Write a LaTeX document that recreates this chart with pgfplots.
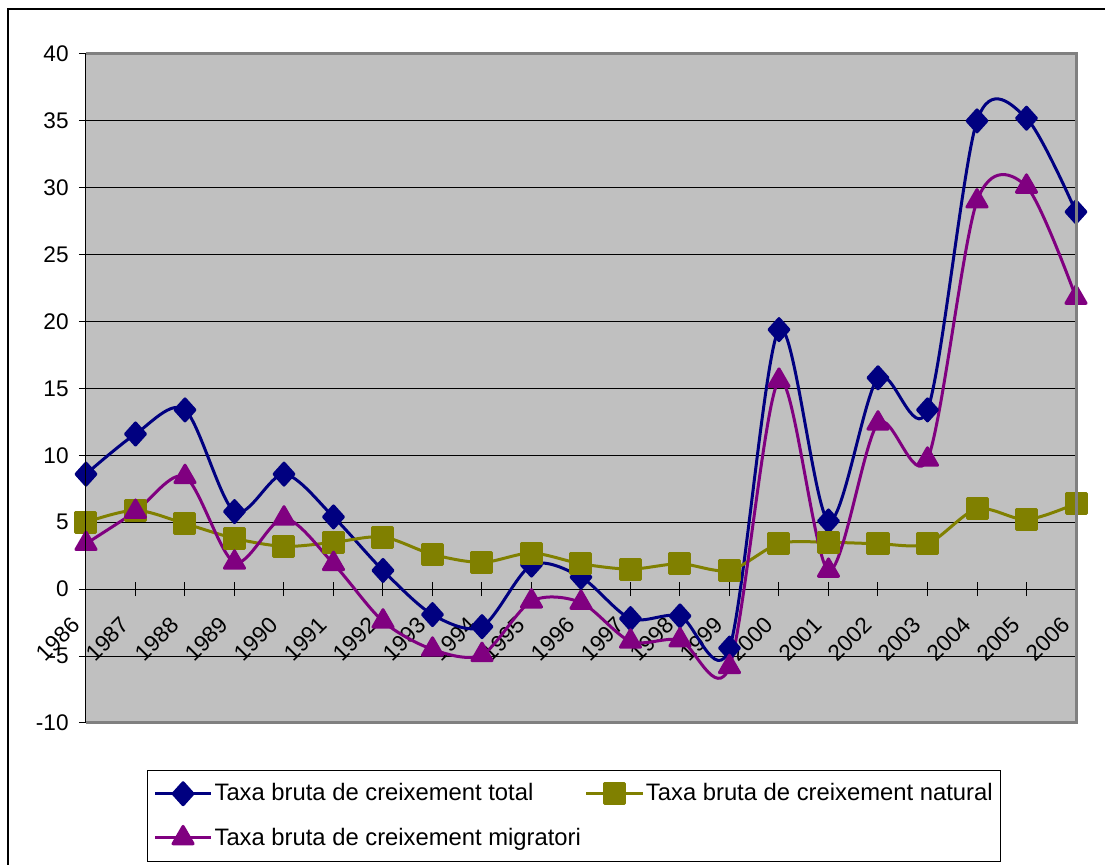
\documentclass[border=0pt]{standalone}
\usepackage{fontspec}
\setmainfont{Liberation Sans}
\usepackage{pgfplots}
\pgfplotsset{compat=1.18}
\definecolor{cTot}{RGB}{0,0,128}
\definecolor{cNat}{RGB}{128,128,0}
\definecolor{cMig}{RGB}{128,0,128}
\definecolor{cBg}{RGB}{192,192,192}
\definecolor{cFrame}{RGB}{128,128,128}
\begin{document}
\begin{tikzpicture}
\useasboundingbox (0,0) rectangle (552.5pt,432.5pt);
\fill[white] (0,0) rectangle (552.5pt,432.5pt);
\draw[line width=1pt] (4pt,0pt) -- (4pt,428pt) -- (552.5pt,428pt);
\begin{axis}[
  at={(43pt,71pt)}, anchor=south west,
  width=495pt, height=334.5pt, scale only axis,
  xmin=0, xmax=20, ymin=-10, ymax=40,
  axis x line=middle, axis y line=left,
  axis line style={-, black, line width=0.5pt},
  axis background/.style={fill=cBg},
  xtick={0,...,20},
  xticklabels={1986,1987,1988,1989,1990,1991,1992,1993,1994,1995,1996,1997,1998,1999,2000,2001,2002,2003,2004,2005,2006},
  ytick={-10,-5,...,40},
  ymajorgrids, grid style={black, line width=0.5pt},
  tick align=center, major tick length=7pt, tick style={black, line width=0.5pt},
  hide obscured x ticks=false, hide obscured y ticks=false,
  /pgf/number format/assume math mode=true,
  ticklabel style={font=\fontsize{11.3}{13}\selectfont},
  xticklabel style={xshift=-5pt, yshift=-12.5pt, rotate=45, anchor=east, inner sep=0pt},
  yticklabel style={anchor=east, inner sep=0pt, xshift=-5pt},
  legend columns=2,
  legend style={at={(0.0616,-0.0703)}, anchor=north west, draw=black, line width=0.6pt, fill=white,
    font=\fontsize{11.9}{14}\selectfont, inner xsep=3pt, inner ysep=5.5pt,
    nodes={inner sep=1pt, anchor=west}, row sep=10pt,
    /tikz/every even column/.append style={column sep=1pt}},
  legend cell align=left,
  legend image code/.code={\draw[mark repeat=2,mark phase=2,#1] plot coordinates {(0pt,0pt) (14pt,0pt) (28pt,0pt)};},
  after end axis/.code={\draw[cFrame, line width=1.5pt] (rel axis cs:0,1) -- (rel axis cs:1,1) -- (rel axis cs:1,0) -- (rel axis cs:0,0);
    \draw[black, line width=0.5pt] (rel axis cs:0,0) -- (rel axis cs:0,1);},
]
\addplot[cTot, line width=1.5pt, smooth, tension=0.5, line join=round, mark=diamond*, mark size=5.5pt, mark options={solid, fill=cTot, xscale=1.2}] coordinates {
(0,8.6) (1,11.6) (2,13.4) (3,5.8) (4,8.6) (5,5.4) (6,1.4) (7,-1.9) (8,-2.8) (9,1.8) (10,0.9)
(11,-2.2) (12,-2.0) (13,-4.4) (14,19.4) (15,5.1) (16,15.8) (17,13.4) (18,35.0) (19,35.2) (20,28.2)};
\addlegendentry{Taxa bruta de creixement total}
\addplot[cNat, line width=1.5pt, smooth, tension=0.5, line join=round, mark=square*, mark size=5pt, mark options={solid, fill=cNat}] coordinates {
(0,5.0) (1,5.9) (2,4.9) (3,3.8) (4,3.2) (5,3.5) (6,3.9) (7,2.6) (8,2.0) (9,2.7) (10,1.9)
(11,1.5) (12,1.9) (13,1.4) (14,3.4) (15,3.5) (16,3.4) (17,3.4) (18,6.0) (19,5.2) (20,6.4)};
\addlegendentry{Taxa bruta de creixement natural\hspace{18pt}}
\addplot[cMig, line width=1.5pt, smooth, tension=0.5, line join=round, mark=triangle*, mark size=5.8pt, mark options={solid, fill=cMig}] coordinates {
(0,3.4) (1,5.8) (2,8.4) (3,2.0) (4,5.3) (5,1.9) (6,-2.4) (7,-4.5) (8,-4.9) (9,-0.9) (10,-1.0)
(11,-3.9) (12,-3.8) (13,-5.8) (14,15.6) (15,1.4) (16,12.4) (17,9.7) (18,29.0) (19,30.1) (20,21.8)};
\addlegendentry{Taxa bruta de creixement migratori}
\end{axis}
\end{tikzpicture}
\end{document}
